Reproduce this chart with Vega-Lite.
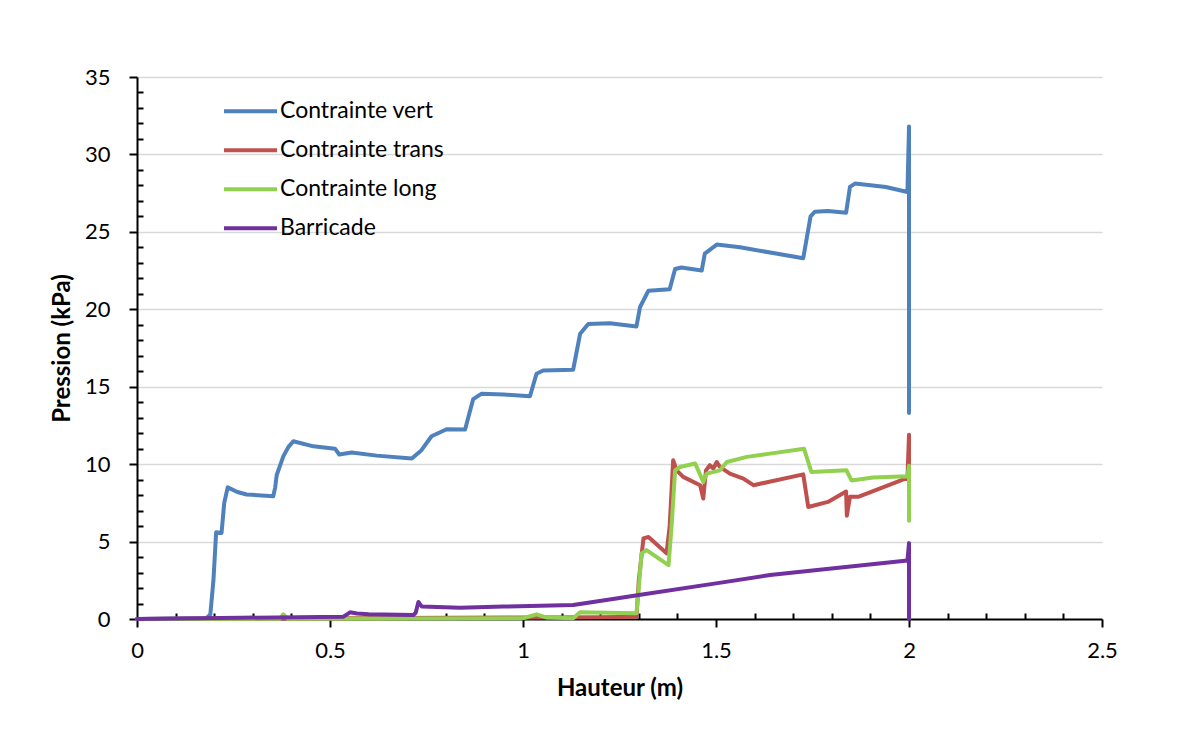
{
  "$schema": "https://vega.github.io/schema/vega-lite/v6.json",
  "width": 965,
  "height": 542,
  "autosize": {"type": "none"},
  "padding": {"left": 137, "top": 77, "right": 88, "bottom": 136},
  "background": "white",
  "config": {
    "font": "Lato",
    "view": {"stroke": null},
    "axis": {
      "domainColor": "black",
      "domainWidth": 2,
      "tickColor": "black",
      "tickWidth": 2,
      "labelColor": "black",
      "labelFontSize": 22,
      "labelFont": "Lato",
      "titleFont": "Lato",
      "titleFontSize": 24,
      "titleFontWeight": "bold",
      "titleColor": "black",
      "labelOverlap": false,
      "labelFlush": false,
      "gridColor": "#d9d9d9",
      "gridWidth": 1.5
    }
  },
  "data": {
    "values": [
      {"s": "Contrainte vert", "x": 0, "y": 0},
      {"s": "Contrainte vert", "x": 0.18, "y": 0.05},
      {"s": "Contrainte vert", "x": 0.19, "y": 0.3},
      {"s": "Contrainte vert", "x": 0.198, "y": 2.5},
      {"s": "Contrainte vert", "x": 0.205, "y": 5.6},
      {"s": "Contrainte vert", "x": 0.219, "y": 5.55},
      {"s": "Contrainte vert", "x": 0.226, "y": 7.5},
      {"s": "Contrainte vert", "x": 0.235, "y": 8.5},
      {"s": "Contrainte vert", "x": 0.26, "y": 8.2},
      {"s": "Contrainte vert", "x": 0.284, "y": 8.04},
      {"s": "Contrainte vert", "x": 0.353, "y": 7.93},
      {"s": "Contrainte vert", "x": 0.358, "y": 8.5},
      {"s": "Contrainte vert", "x": 0.362, "y": 9.3},
      {"s": "Contrainte vert", "x": 0.379, "y": 10.5},
      {"s": "Contrainte vert", "x": 0.392, "y": 11.1},
      {"s": "Contrainte vert", "x": 0.405, "y": 11.48},
      {"s": "Contrainte vert", "x": 0.457, "y": 11.15},
      {"s": "Contrainte vert", "x": 0.513, "y": 11.0},
      {"s": "Contrainte vert", "x": 0.524, "y": 10.62},
      {"s": "Contrainte vert", "x": 0.556, "y": 10.75},
      {"s": "Contrainte vert", "x": 0.621, "y": 10.55},
      {"s": "Contrainte vert", "x": 0.712, "y": 10.36},
      {"s": "Contrainte vert", "x": 0.737, "y": 10.9},
      {"s": "Contrainte vert", "x": 0.763, "y": 11.8},
      {"s": "Contrainte vert", "x": 0.802, "y": 12.25},
      {"s": "Contrainte vert", "x": 0.85, "y": 12.23},
      {"s": "Contrainte vert", "x": 0.858, "y": 13.0},
      {"s": "Contrainte vert", "x": 0.871, "y": 14.2},
      {"s": "Contrainte vert", "x": 0.893, "y": 14.55},
      {"s": "Contrainte vert", "x": 0.95, "y": 14.5},
      {"s": "Contrainte vert", "x": 1.018, "y": 14.38},
      {"s": "Contrainte vert", "x": 1.035, "y": 15.84},
      {"s": "Contrainte vert", "x": 1.052, "y": 16.05},
      {"s": "Contrainte vert", "x": 1.13, "y": 16.1},
      {"s": "Contrainte vert", "x": 1.148, "y": 18.42},
      {"s": "Contrainte vert", "x": 1.169, "y": 19.05},
      {"s": "Contrainte vert", "x": 1.225, "y": 19.1},
      {"s": "Contrainte vert", "x": 1.294, "y": 18.89},
      {"s": "Contrainte vert", "x": 1.303, "y": 20.13},
      {"s": "Contrainte vert", "x": 1.325, "y": 21.2},
      {"s": "Contrainte vert", "x": 1.38, "y": 21.3},
      {"s": "Contrainte vert", "x": 1.394, "y": 22.6},
      {"s": "Contrainte vert", "x": 1.41, "y": 22.7},
      {"s": "Contrainte vert", "x": 1.463, "y": 22.5},
      {"s": "Contrainte vert", "x": 1.471, "y": 23.6},
      {"s": "Contrainte vert", "x": 1.502, "y": 24.18},
      {"s": "Contrainte vert", "x": 1.562, "y": 24.0},
      {"s": "Contrainte vert", "x": 1.726, "y": 23.3},
      {"s": "Contrainte vert", "x": 1.745, "y": 26.0},
      {"s": "Contrainte vert", "x": 1.756, "y": 26.3},
      {"s": "Contrainte vert", "x": 1.79, "y": 26.35},
      {"s": "Contrainte vert", "x": 1.837, "y": 26.23},
      {"s": "Contrainte vert", "x": 1.847, "y": 27.9},
      {"s": "Contrainte vert", "x": 1.86, "y": 28.12},
      {"s": "Contrainte vert", "x": 1.94, "y": 27.9},
      {"s": "Contrainte vert", "x": 1.996, "y": 27.57},
      {"s": "Contrainte vert", "x": 2.0, "y": 31.8},
      {"s": "Contrainte vert", "x": 2.0, "y": 13.3},
      {"s": "Contrainte vert", "x": 2.0, "y": 17.2},
      {"s": "Contrainte vert", "x": 2.0, "y": 14.0},
      {"s": "Contrainte vert", "x": 2.0, "y": 16.0},
      {"s": "Contrainte trans", "x": 0, "y": 0},
      {"s": "Contrainte trans", "x": 0.5, "y": 0.05},
      {"s": "Contrainte trans", "x": 1.0, "y": 0.1},
      {"s": "Contrainte trans", "x": 1.2, "y": 0.12},
      {"s": "Contrainte trans", "x": 1.294, "y": 0.15},
      {"s": "Contrainte trans", "x": 1.3, "y": 2.5},
      {"s": "Contrainte trans", "x": 1.312, "y": 5.2},
      {"s": "Contrainte trans", "x": 1.325, "y": 5.3},
      {"s": "Contrainte trans", "x": 1.372, "y": 4.24},
      {"s": "Contrainte trans", "x": 1.38, "y": 6.0},
      {"s": "Contrainte trans", "x": 1.389, "y": 10.25},
      {"s": "Contrainte trans", "x": 1.398, "y": 9.6},
      {"s": "Contrainte trans", "x": 1.415, "y": 9.18},
      {"s": "Contrainte trans", "x": 1.459, "y": 8.64},
      {"s": "Contrainte trans", "x": 1.467, "y": 7.78},
      {"s": "Contrainte trans", "x": 1.474, "y": 9.6},
      {"s": "Contrainte trans", "x": 1.484, "y": 9.93},
      {"s": "Contrainte trans", "x": 1.493, "y": 9.72},
      {"s": "Contrainte trans", "x": 1.502, "y": 10.14},
      {"s": "Contrainte trans", "x": 1.51, "y": 9.82},
      {"s": "Contrainte trans", "x": 1.536, "y": 9.39},
      {"s": "Contrainte trans", "x": 1.571, "y": 9.07},
      {"s": "Contrainte trans", "x": 1.597, "y": 8.64},
      {"s": "Contrainte trans", "x": 1.726, "y": 9.34},
      {"s": "Contrainte trans", "x": 1.739, "y": 7.23},
      {"s": "Contrainte trans", "x": 1.79, "y": 7.56},
      {"s": "Contrainte trans", "x": 1.837, "y": 8.23},
      {"s": "Contrainte trans", "x": 1.839, "y": 6.67},
      {"s": "Contrainte trans", "x": 1.847, "y": 7.89},
      {"s": "Contrainte trans", "x": 1.87, "y": 7.9},
      {"s": "Contrainte trans", "x": 1.996, "y": 9.12},
      {"s": "Contrainte trans", "x": 2.0, "y": 11.9},
      {"s": "Contrainte trans", "x": 2.0, "y": 9.0},
      {"s": "Contrainte trans", "x": 2.0, "y": 10.5},
      {"s": "Contrainte trans", "x": 2.0, "y": 9.2},
      {"s": "Contrainte long", "x": 0, "y": 0},
      {"s": "Contrainte long", "x": 0.37, "y": 0.02},
      {"s": "Contrainte long", "x": 0.379, "y": 0.3},
      {"s": "Contrainte long", "x": 0.39, "y": 0.02},
      {"s": "Contrainte long", "x": 1.0, "y": 0.05},
      {"s": "Contrainte long", "x": 1.035, "y": 0.3},
      {"s": "Contrainte long", "x": 1.06, "y": 0.1},
      {"s": "Contrainte long", "x": 1.13, "y": 0.05},
      {"s": "Contrainte long", "x": 1.148, "y": 0.43},
      {"s": "Contrainte long", "x": 1.294, "y": 0.37},
      {"s": "Contrainte long", "x": 1.3, "y": 2.0},
      {"s": "Contrainte long", "x": 1.307, "y": 4.24},
      {"s": "Contrainte long", "x": 1.32, "y": 4.45},
      {"s": "Contrainte long", "x": 1.377, "y": 3.48},
      {"s": "Contrainte long", "x": 1.385, "y": 6.0},
      {"s": "Contrainte long", "x": 1.394, "y": 9.6},
      {"s": "Contrainte long", "x": 1.407, "y": 9.82},
      {"s": "Contrainte long", "x": 1.446, "y": 10.04},
      {"s": "Contrainte long", "x": 1.454, "y": 9.6},
      {"s": "Contrainte long", "x": 1.467, "y": 8.85},
      {"s": "Contrainte long", "x": 1.476, "y": 9.39},
      {"s": "Contrainte long", "x": 1.51, "y": 9.6},
      {"s": "Contrainte long", "x": 1.528, "y": 10.14},
      {"s": "Contrainte long", "x": 1.58, "y": 10.47},
      {"s": "Contrainte long", "x": 1.64, "y": 10.68},
      {"s": "Contrainte long", "x": 1.728, "y": 11.0},
      {"s": "Contrainte long", "x": 1.747, "y": 9.5},
      {"s": "Contrainte long", "x": 1.838, "y": 9.6},
      {"s": "Contrainte long", "x": 1.851, "y": 8.95},
      {"s": "Contrainte long", "x": 1.907, "y": 9.14},
      {"s": "Contrainte long", "x": 1.996, "y": 9.22},
      {"s": "Contrainte long", "x": 2.0, "y": 9.9},
      {"s": "Contrainte long", "x": 2.0, "y": 6.34},
      {"s": "Contrainte long", "x": 2.0, "y": 9.2},
      {"s": "Barricade", "x": 0, "y": 0},
      {"s": "Barricade", "x": 0.27, "y": 0.08},
      {"s": "Barricade", "x": 0.535, "y": 0.15},
      {"s": "Barricade", "x": 0.552, "y": 0.43},
      {"s": "Barricade", "x": 0.57, "y": 0.35},
      {"s": "Barricade", "x": 0.6, "y": 0.3},
      {"s": "Barricade", "x": 0.716, "y": 0.26},
      {"s": "Barricade", "x": 0.722, "y": 0.4},
      {"s": "Barricade", "x": 0.729, "y": 1.1},
      {"s": "Barricade", "x": 0.738, "y": 0.8},
      {"s": "Barricade", "x": 0.837, "y": 0.73},
      {"s": "Barricade", "x": 0.95, "y": 0.8},
      {"s": "Barricade", "x": 1.13, "y": 0.9},
      {"s": "Barricade", "x": 1.25, "y": 1.35},
      {"s": "Barricade", "x": 1.3, "y": 1.55},
      {"s": "Barricade", "x": 1.5, "y": 2.3},
      {"s": "Barricade", "x": 1.64, "y": 2.84},
      {"s": "Barricade", "x": 1.75, "y": 3.13},
      {"s": "Barricade", "x": 1.996, "y": 3.78},
      {"s": "Barricade", "x": 2.0, "y": 4.9},
      {"s": "Barricade", "x": 2.0, "y": 0},
      {"s": "Barricade", "x": 2.0, "y": 2.5},
      {"s": "Barricade", "x": 2.0, "y": 0.3}
    ]
  },
  "transform": [{"window": [{"op": "row_number", "as": "idx"}]}],
  "mark": {"type": "line", "strokeWidth": 4, "strokeCap": "round", "strokeJoin": "round"},
  "encoding": {
    "x": {
      "field": "x",
      "type": "quantitative",
      "scale": {"domain": [0, 2.5], "nice": false, "zero": true},
      "axis": {
        "title": "Hauteur (m)",
        "grid": false,
        "values": [0, 0.1, 0.2, 0.3, 0.4, 0.5, 0.6, 0.7, 0.8, 0.9, 1, 1.1, 1.2, 1.3, 1.4, 1.5, 1.6, 1.7, 1.8, 1.9, 2, 2.1, 2.2, 2.3, 2.4, 2.5],
        "labelExpr": "round(datum.value * 10) % 5 === 0 ? format(datum.value, '~g') : ''",
        "tickSize": {"condition": {"test": "round(datum.value * 10) % 5 === 0", "value": 8}, "value": -6},
        "labelPadding": 13,
        "titleY": 69,
        "titleBaseline": "middle"
      }
    },
    "y": {
      "field": "y",
      "type": "quantitative",
      "scale": {"domain": [0, 35], "nice": false},
      "axis": {
        "title": "Pression (kPa)",
        "values": [0, 1, 2, 3, 4, 5, 6, 7, 8, 9, 10, 11, 12, 13, 14, 15, 16, 17, 18, 19, 20, 21, 22, 23, 24, 25, 26, 27, 28, 29, 30, 31, 32, 33, 34, 35],
        "labelExpr": "datum.value % 5 === 0 ? datum.label : ''",
        "tickSize": {"condition": {"test": "datum.value % 5 === 0", "value": 8}, "value": -6},
        "gridOpacity": {"condition": {"test": "datum.value % 5 === 0 && datum.value > 0", "value": 1}, "value": 0},
        "labelPadding": 19,
        "titleX": -75,
        "titleBaseline": "middle",
        "titleAngle": -90
      }
    },
    "color": {
      "field": "s",
      "type": "nominal",
      "scale": {
        "domain": ["Contrainte vert", "Contrainte trans", "Contrainte long", "Barricade"],
        "range": ["#4F81BD", "#C0504D", "#92D050", "#7030A0"]
      },
      "legend": {
        "orient": "none",
        "legendX": 85,
        "legendY": 15,
        "title": null,
        "symbolType": "stroke",
        "symbolSize": 2809,
        "symbolStrokeWidth": 4,
        "labelFontSize": 23,
        "labelFont": "Lato",
        "labelColor": "black",
        "labelOffset": 1,
        "labelLimit": 400,
        "clipHeight": 38.7,
        "rowPadding": 0
      }
    },
    "order": {"field": "idx", "type": "quantitative"}
  }
}
